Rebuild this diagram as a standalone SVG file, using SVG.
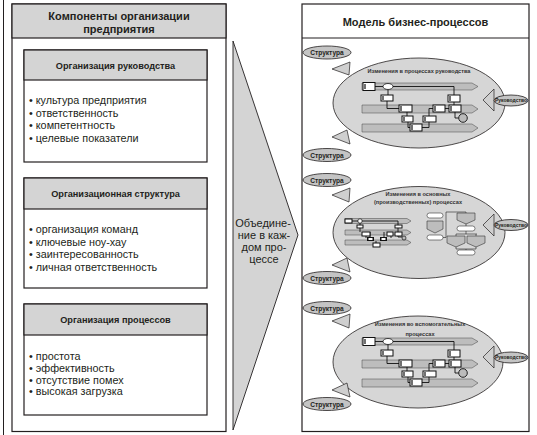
<svg xmlns="http://www.w3.org/2000/svg" width="537" height="435" viewBox="0 0 537 435">
<defs>
<style>
.frame{fill:#fff;stroke:#231f20;stroke-width:1.2}
.hdr{fill:#d4d4d4;stroke:#231f20;stroke-width:1.2}
.t{font-family:"Liberation Sans","DejaVu Sans",sans-serif;fill:#231f20}
.title{font-size:11px;font-weight:bold;text-anchor:middle}
.sub{font-size:9.2px;font-weight:bold;text-anchor:middle}
.item{font-size:10.8px}
.arr{font-size:11px;text-anchor:middle}
.bigell{fill:#d6d6d6;stroke:#231f20;stroke-width:0.8}
.smell{fill:#c4c4c4;stroke:#231f20;stroke-width:0.8}
.wedge{fill:#cfcfcf;stroke:#231f20;stroke-width:0.7}
.lbl{font-size:6.6px;font-weight:bold;text-anchor:middle}
.lbl2{font-size:5px;font-weight:bold;text-anchor:middle}
.cap{font-size:5.6px;font-weight:bold;text-anchor:middle;fill:#333}
.lane{fill:#bdbdbd;stroke:#444;stroke-width:0.5}
.bx{fill:#fff;stroke:#111;stroke-width:1}
.bar{stroke:#111;stroke-width:1.2}
.ln{fill:none;stroke:#111;stroke-width:0.9}
.ln2{fill:none;stroke:#222;stroke-width:0.6}
.gs{fill:#bdbdbd;stroke:#333;stroke-width:0.6}
.rr{fill:#fff;stroke:#333;stroke-width:0.6}
</style>
<g id="lane-diagram">
  <polygon class="lane" points="362,83 472,83 478,86.5 472,90 362,90"/>
  <polygon class="lane" points="362,105 472,105 478,109 472,113 362,113"/>
  <polygon class="lane" points="362,124 472,124 478,128 472,132 362,132"/>
  <path class="ln" d="M375,86.5H383 M393,86.5H454V95 M388,89.5V95 M387,101V108.5H399 M407,112V116 M408,122V127.5H410 M422,127.5H429V122 M429,116V108.5H433 M445,108.5H449 M454,102V105 M455,112V118H458.7"/>
  <rect class="bx" x="363" y="82.5" width="12" height="8"/>
  <line class="bar" x1="365" y1="84" x2="365" y2="89"/>
  <ellipse cx="388" cy="86.5" rx="5" ry="3" fill="#fff" stroke="#111" stroke-width="0.8"/>
  <rect class="bx" x="381" y="95" width="12" height="6"/>
  <line class="bar" x1="383" y1="96" x2="383" y2="100"/>
  <rect class="bx" x="399" y="105" width="13" height="7"/>
  <line class="bar" x1="401" y1="106" x2="401" y2="111"/>
  <rect class="bx" x="402" y="116" width="11" height="6"/>
  <line class="bar" x1="404" y1="117" x2="404" y2="121"/>
  <rect class="bx" x="410" y="124" width="12" height="7"/>
  <line class="bar" x1="412" y1="125" x2="412" y2="130"/>
  <rect class="bx" x="423" y="116" width="13" height="6"/>
  <line class="bar" x1="425" y1="117" x2="425" y2="121"/>
  <rect class="bx" x="433" y="105" width="12" height="7"/>
  <line class="bar" x1="435" y1="106" x2="435" y2="111"/>
  <rect class="bx" x="449" y="105" width="12" height="7"/>
  <line class="bar" x1="451" y1="106" x2="451" y2="111"/>
  <rect class="bx" x="448" y="95" width="12" height="7"/>
  <line class="bar" x1="450" y1="96" x2="450" y2="101"/>
  <circle cx="463" cy="118" r="4.3" fill="#bbb" stroke="#111" stroke-width="0.9"/>
</g>
</defs>

<rect width="537" height="435" fill="#fff"/>
<line x1="3.5" y1="0" x2="3.5" y2="435" stroke="#231f20" stroke-width="1"/>

<g id="components-panel">
  <rect class="frame" x="12" y="4" width="214" height="427.5"/>
  <rect class="hdr" x="12" y="4" width="214" height="34"/>
  <text class="t title" x="119" y="20">Компоненты организации</text>
  <text class="t title" x="119" y="33">предприятия</text>
</g>

<g id="box-management">
  <rect class="frame" x="24" y="50" width="183" height="112"/>
  <rect class="hdr" x="24" y="50" width="183" height="30"/>
  <text class="t sub" x="115.5" y="69">Организация руководства</text>
  <text class="t item" x="29" y="104">• культура предприятия</text>
  <text class="t item" x="29" y="116.5">• ответственность</text>
  <text class="t item" x="29" y="129">• компетентность</text>
  <text class="t item" x="29" y="141.5">• целевые показатели</text>
</g>

<g id="box-structure">
  <rect class="frame" x="24" y="178" width="183" height="110"/>
  <rect class="hdr" x="24" y="178" width="183" height="31"/>
  <text class="t sub" x="115.5" y="197">Организационная структура</text>
  <text class="t item" x="29" y="233">• организация команд</text>
  <text class="t item" x="29" y="245.5">• ключевые ноу-хау</text>
  <text class="t item" x="29" y="258">• заинтересованность</text>
  <text class="t item" x="29" y="270.5">• личная ответственность</text>
</g>

<g id="box-processes">
  <rect class="frame" x="24" y="304" width="183" height="111"/>
  <rect class="hdr" x="24" y="304" width="183" height="31"/>
  <text class="t sub" x="115.5" y="322.5">Организация процессов</text>
  <text class="t item" x="29" y="360">• простота</text>
  <text class="t item" x="29" y="372">• эффективность</text>
  <text class="t item" x="29" y="383.5">• отсутствие помех</text>
  <text class="t item" x="29" y="395">• высокая загрузка</text>
</g>

<g id="merge-arrow">
  <polygon points="233,41 298,235 233,430" fill="#d4d4d4" stroke="#231f20" stroke-width="0.9"/>
  <text class="t arr" x="263" y="227">Объедине-</text>
  <text class="t arr" x="264" y="239">ние в каж-</text>
  <text class="t arr" x="264" y="251">дом про-</text>
  <text class="t arr" x="264" y="263">цессе</text>
</g>

<g id="model-panel">
  <rect class="frame" x="302" y="4" width="227" height="427.5"/>
  <line x1="302" y1="38" x2="529" y2="38" stroke="#231f20" stroke-width="1.2"/>
  <text class="t title" x="415.5" y="26">Модель бизнес-процессов</text>
</g>

<g id="process-management">
  <ellipse class="bigell" cx="419" cy="103" rx="86" ry="45"/>
  <text class="t cap" x="419" y="72.5">Изменения в процессах руководства</text>
  <use href="#lane-diagram"/>
</g>

<g id="process-core">
  <ellipse class="bigell" cx="419" cy="232.5" rx="86" ry="46"/>
  <text class="t cap" x="418" y="195.5">Изменения в основных</text>
  <text class="t cap" x="418" y="204">(производственных) процессах</text>
  <polygon class="lane" points="345,218.5 407,218.5 411,221 407,223.5 345,223.5"/>
  <polygon class="lane" points="345,230 407,230 411,232.5 407,235 345,235"/>
  <polygon class="lane" points="345,240 407,240 411,242.5 407,245 345,245"/>
  <path class="ln" d="M352,221H358 M362,221H398V225 M360,223V225 M360,228V232 M366,236V238 M391,236V238 M398,228V232 M376,241V243 M370,237V232 M384,237V232 M398,236V237H402"/>
  <rect class="bx" x="345" y="219" width="7" height="4"/>
  <circle cx="360" cy="221" r="2.2" fill="#fff" stroke="#111" stroke-width="0.7"/>
  <rect class="bx" x="357" y="225" width="6" height="3"/>
  <rect class="bx" x="395" y="225" width="7" height="3"/>
  <rect class="bx" x="362" y="232" width="8" height="4"/>
  <rect class="bx" x="387" y="232" width="6" height="4"/>
  <rect class="bx" x="395" y="232" width="7" height="4"/>
  <rect x="367" y="237" width="7" height="4" fill="#111"/>
  <rect x="368.5" y="238" width="4" height="2" fill="#fff"/>
  <rect x="380" y="237" width="7" height="4" fill="#111"/>
  <rect x="381.5" y="238" width="4" height="2" fill="#fff"/>
  <rect class="bx" x="373" y="243" width="7" height="4"/>
  <circle cx="404" cy="238" r="2" fill="#bbb" stroke="#111" stroke-width="0.7"/>
  <path class="ln2" d="M443,237.5H446V212H466V213 M466,223V226 M466,231V234 M456,234H477 M456,234V236 M476,234V236 M456,246V249H476V246 M466,249V250"/>
  <rect class="rr" x="427" y="213" width="16" height="5" rx="2.5"/>
  <polygon class="gs" points="427,221 443,221 443,229 435,233 427,229"/>
  <rect class="rr" x="427" y="235" width="16" height="5" rx="2.5"/>
  <polygon class="gs" points="457,213 475,213 475,220 466,224 457,220"/>
  <rect class="rr" x="457" y="226" width="18" height="5" rx="2.5"/>
  <polygon class="gs" points="447,236 465,236 465,243 456,247 447,243"/>
  <polygon class="gs" points="467,236 485,236 485,243 476,247 467,243"/>
  <rect class="rr" x="457" y="250" width="18" height="5" rx="2.5"/>
</g>

<g id="process-support">
  <ellipse class="bigell" cx="418" cy="362" rx="85" ry="46"/>
  <text class="t cap" x="420" y="325.5">Изменения во вспомогательных</text>
  <text class="t cap" x="420" y="335.5">процессах</text>
  <use href="#lane-diagram" transform="translate(0,255)"/>
</g>

<g id="connectors">
  <polygon class="wedge" points="332,69 350,62 349,75"/>
  <polygon class="wedge" points="332,137 347,130 350,144"/>
  <polygon class="wedge" points="483,100 494,89 494,111"/>
  <polygon class="wedge" points="332,195 350,188 349,202"/>
  <polygon class="wedge" points="332,265 347,258 350,272"/>
  <polygon class="wedge" points="483,225 494,214 494,236"/>
  <polygon class="wedge" points="332,321 350,314 349,328"/>
  <polygon class="wedge" points="332,390 347,383 350,397"/>
  <polygon class="wedge" points="483,357 494,346 494,368"/>
</g>

<g id="struct-1"><ellipse class="smell" cx="327" cy="52.5" rx="24" ry="6.5"/><text class="t lbl" x="327" y="55">Структура</text></g>
<g id="struct-2"><ellipse class="smell" cx="327" cy="155" rx="24" ry="6.5"/><text class="t lbl" x="327" y="157.5">Структура</text></g>
<g id="struct-3"><ellipse class="smell" cx="327" cy="180" rx="24" ry="6.5"/><text class="t lbl" x="327" y="182.5">Структура</text></g>
<g id="struct-4"><ellipse class="smell" cx="327" cy="278" rx="24" ry="6.5"/><text class="t lbl" x="327" y="280.5">Структура</text></g>
<g id="struct-5"><ellipse class="smell" cx="327" cy="308" rx="24" ry="6.5"/><text class="t lbl" x="327" y="310.5">Структура</text></g>
<g id="struct-6"><ellipse class="smell" cx="327" cy="404" rx="24" ry="6.5"/><text class="t lbl" x="327" y="406.5">Структура</text></g>
<g id="lead-1"><ellipse class="smell" cx="511" cy="100.5" rx="17" ry="5.5"/><text class="t lbl2" x="511" y="102.3">Руководство</text></g>
<g id="lead-2"><ellipse class="smell" cx="511" cy="225" rx="17" ry="5.5"/><text class="t lbl2" x="511" y="226.8">Руководство</text></g>
<g id="lead-3"><ellipse class="smell" cx="511" cy="357.5" rx="17" ry="5.5"/><text class="t lbl2" x="511" y="359.3">Руководство</text></g>
</svg>
